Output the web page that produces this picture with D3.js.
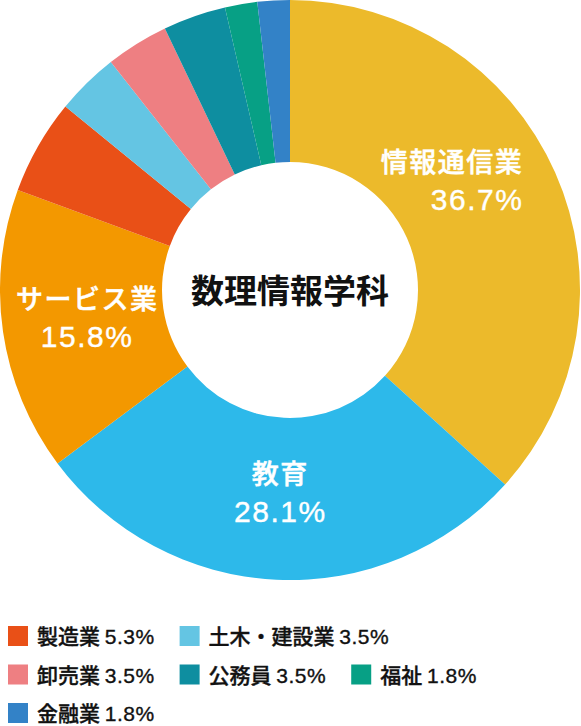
<!DOCTYPE html>
<html>
<head>
<meta charset="utf-8">
<style>
    body {
        margin: 0;
        background: #fff;
        font-family: "Noto Sans CJK JP", sans-serif;
    }
    .slice-label {
        fill: #fff;
        stroke: #fff;
        font-weight: 500;
    }
    .name {
        font-family: "Noto Sans CJK JP", sans-serif;
        font-size: 27px;
        letter-spacing: 1.5px;
        stroke-width: 0.5px;
    }
    .pct {
        font-family: "Liberation Sans", Arial, sans-serif;
        font-size: 30px;
        letter-spacing: 1.5px;
        stroke-width: 0.4px;
    }
    .legend text {
        font-size: 21px;
        font-weight: 500;
        fill: #111;
        stroke: #111;
        stroke-width: 0.35px;
    }
</style>
</head>
<body>
<script src="https://d3js.org/d3.v7.min.js"></script>
<script>
// slices, clockwise from 12 o'clock
var categories = ["情報通信業", "教育", "サービス業", "製造業", "土木・建設業", "卸売業", "公務員", "福祉", "金融業"];
var shares = [36.7, 28.1, 15.8, 5.3, 3.5, 3.5, 3.5, 1.8, 1.8];
var colors = ["#ecba2b", "#2db9ea", "#f39800", "#e95017", "#64c5e3", "#ee7f82", "#0e8ea0", "#07a085", "#3382c7"];
// which slices get a label inside the ring
var labelled = ["情報通信業", "教育", "サービス業"];
// legend rows
var legendRows = [["製造業", "土木・建設業"], ["卸売業", "公務員", "福祉"], ["金融業"]];
var centerTitle = "数理情報学科";

var width = 581, height = 726;
var cx = 290, cy = 290,
    outerR = 290, innerR = 128, labelR = 205;

var data = categories.map(function(c, i) {
    return {name: c, value: shares[i], color: colors[i]};
});

var svg = d3.select("body").append("svg")
    .attr("width", width)
    .attr("height", height);

var pie = d3.pie()
    .sort(null)
    .value(function(d) { return d.value; });

var arc = d3.arc()
    .innerRadius(innerR)
    .outerRadius(outerR);

var labelArc = d3.arc()
    .innerRadius(labelR)
    .outerRadius(labelR);

var g = svg.append("g")
    .attr("transform", "translate(" + cx + "," + cy + ")");

var arcs = pie(data);

g.selectAll("path")
    .data(arcs)
    .enter().append("path")
    .attr("d", arc)
    .attr("fill", function(d) { return d.data.color; });

var labels = g.selectAll("g.slice-label")
    .data(arcs.filter(function(d) { return labelled.indexOf(d.data.name) > -1; }))
    .enter().append("g")
    .attr("class", "slice-label")
    .attr("text-anchor", function(d) { return labelArc.centroid(d)[0] > 100 ? "end" : "middle"; })
    .attr("transform", function(d) {
        var c = labelArc.centroid(d);
        // the big right-hand label sits right-aligned, a bit higher than its centroid
        if (c[0] > 100) { c = [c[0] + 46, c[1] - 24]; }
        return "translate(" + c[0] + "," + (c[1] - 4) + ")";
    });

labels.append("text")
    .attr("class", "name")
    .attr("y", -7)
    .text(function(d) { return d.data.name; });

labels.append("text")
    .attr("class", "pct")
    .attr("y", 31)
    .text(function(d) { return d.data.value.toFixed(1) + "%"; });

g.append("text")
    .attr("text-anchor", "middle")
    .attr("y", 13)
    .attr("font-size", 33)
    .attr("font-weight", "bold")
    .attr("fill", "#111")
    .text(centerTitle);

// legend
var legend = svg.append("g")
    .attr("class", "legend")
    .attr("transform", "translate(8,626)");

var sq = 20, rowGap = 38.5, itemGap = 25;

legendRows.forEach(function(row, r) {
    var x = 0;
    row.forEach(function(name) {
        var d = data[categories.indexOf(name)];
        var item = legend.append("g")
            .attr("transform", "translate(" + x + "," + (r * rowGap) + ")");
        item.append("rect")
            .attr("width", sq)
            .attr("height", sq)
            .attr("fill", d.color);
        var t = item.append("text")
            .attr("x", sq + 9)
            .attr("y", 18);
        t.append("tspan").text(d.name + " ");
        t.append("tspan")
            .attr("font-family", "'Liberation Sans', Arial, sans-serif")
            .attr("letter-spacing", "0.5px")
            .text(d.value.toFixed(1) + "%");
        x += sq + 9 + t.node().getComputedTextLength() + itemGap;
    });
});
</script>
</body>
</html>
